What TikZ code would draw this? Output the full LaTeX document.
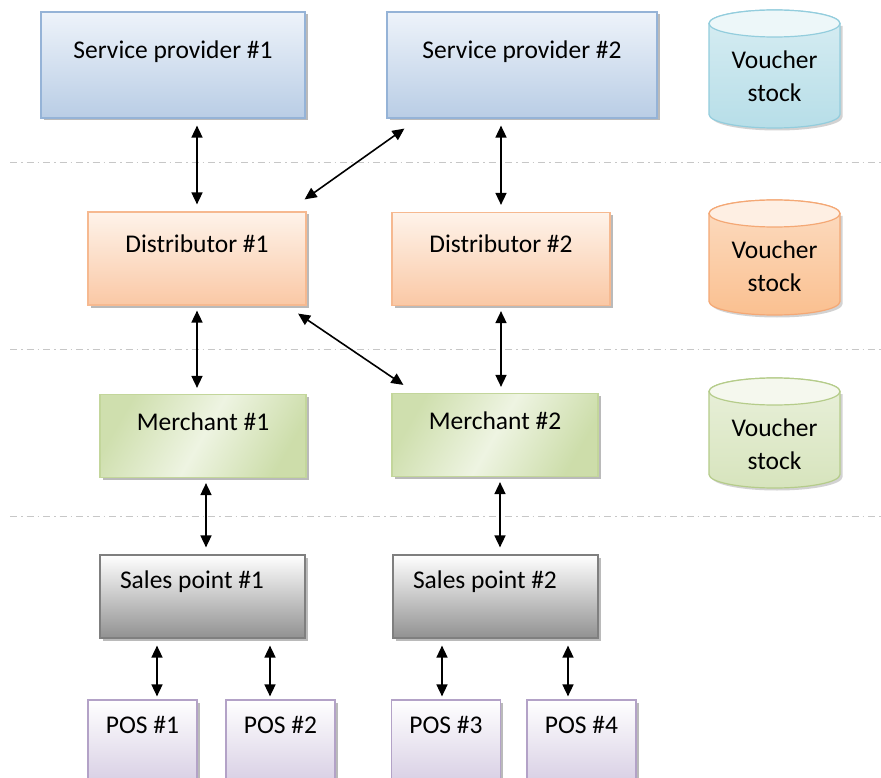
\documentclass[tikz,border=0pt]{standalone}
\usepackage{fontspec}
\setmainfont{Carlito}
\usetikzlibrary{arrows.meta,shadows}
\definecolor{spB}{HTML}{95B3D7}
\definecolor{spT}{HTML}{EEF3FA}
\definecolor{spM}{HTML}{B9CDE5}
\definecolor{diB}{HTML}{F6B990}
\definecolor{diT}{HTML}{FEF3EA}
\definecolor{diM}{HTML}{FAC8A5}
\definecolor{meB}{HTML}{C3D69B}
\definecolor{meT}{HTML}{CFDFAE}
\definecolor{meM}{HTML}{EEF4E2}
\definecolor{saB}{HTML}{7F7F7F}
\definecolor{saM}{HTML}{919191}
\definecolor{poB}{HTML}{B3A2C7}
\definecolor{poM}{HTML}{D0C5DF}
\definecolor{cyB}{HTML}{93CDDD}
\definecolor{cyF}{HTML}{B7DEE8}
\definecolor{orB}{HTML}{F4A875}
\definecolor{orF}{HTML}{FAC090}
\definecolor{grB}{HTML}{B5CC8A}
\definecolor{grF}{HTML}{D7E4BD}
\tikzset{
  box/.style={draw, line width=1.2pt, rectangle, align=center, font=\fontsize{25.5}{30}\selectfont,
    text height=17pt, inner sep=0pt,
    drop shadow={shadow xshift=2.5pt, shadow yshift=-2.5pt, fill=black!45, opacity=0.6}},
  spbox/.style={box, draw=spB, top color=spT, bottom color=spM, minimum height=106pt, text depth=29pt},
  dibox/.style={box, draw=diB, top color=diT, bottom color=diM, minimum width=218pt, minimum height=93pt, text depth=30pt},
  mebox/.style={box, draw=meB, shading=axis, left color=meT, right color=meT!80!meB, middle color=meM, shading angle=60, minimum width=206pt, minimum height=83pt, text depth=29pt},
  sabox/.style={box, draw=saB, top color=white, bottom color=saM, minimum width=205pt, minimum height=83pt, text depth=34pt, text width=165pt, align=flush left},
  pobox/.style={box, draw=poB, top color=white, bottom color=poM, minimum width=109pt, minimum height=100pt, text depth=51pt},
  link/.style={draw=black, line width=1.6pt, {Triangle[length=12pt,width=11pt]}-{Triangle[length=12pt,width=11pt]}},
  sep/.style={draw=black!22, line width=1pt, dash pattern=on 7pt off 4pt on 1.5pt off 4pt},
  vtext/.style={align=center, font=\fontsize{25.5}{33}\selectfont, inner sep=0pt}
}
\begin{document}
\begin{tikzpicture}[x=1pt,y=-1pt]
\clip (0,0) rectangle (881,778);
\fill[white] (0,0) rectangle (881,778);
% separators
\draw[sep] (10,163) -- (881,163);
\draw[sep] (10,349) -- (881,349);
\draw[sep] (10,516) -- (881,516);
% boxes
\node[spbox, minimum width=264pt] (sp1) at (173,65) {Service provider \#1};
\node[spbox, minimum width=270pt] (sp2) at (522,65) {Service provider \#2};
\node[dibox] (d1) at (197,258.5) {Distributor \#1};
\node[dibox] (d2) at (501,259) {Distributor \#2};
\node[mebox] (m1) at (203,436) {Merchant \#1};
\node[mebox] (m2) at (495,435) {Merchant \#2};
\node[sabox] (s1) at (202.5,596.5) {Sales point \#1};
\node[sabox] (s2) at (495.5,596.5) {Sales point \#2};
\node[pobox] (p1) at (142.5,750) {POS \#1};
\node[pobox] (p2) at (280.5,750) {POS \#2};
\node[pobox] (p3) at (446,750) {POS \#3};
\node[pobox] (p4) at (581.5,750) {POS \#4};
% cylinders
\foreach \yt/\yb/\cb/\cf/\nm in {10/128/cyB/cyF/v1, 200/315/orB/orF/v2, 378/488/grB/grF/v3}{
  \pgfmathsetmacro{\ta}{\yt+13.5}
  \pgfmathsetmacro{\ba}{\yb-13.5}
  \fill[black!35, opacity=0.5] (711.5,\ta+2.5) -- (711.5,\ba+2.5) arc[start angle=180,end angle=0,x radius=65.5,y radius=13.5] -- (842.5,\ta+2.5) -- cycle;
  \path[draw=\cb, line width=1.2pt, top color=\cf!55, bottom color=\cf] (709,\ta) -- (709,\ba) arc[start angle=180,end angle=0,x radius=65.5,y radius=13.5] -- (840,\ta) arc[start angle=0,end angle=-180,x radius=65.5,y radius=13.5] -- cycle;
  \path[draw=\cb, line width=1.2pt, fill=white!75!\cf] (774.5,\ta) ellipse[x radius=65.5, y radius=13.5];
  \node[vtext] (\nm) at (774.5,\yt+66) {Voucher\\stock};
}
% connectors
\coordinate (c1) at (157,0);
\coordinate (c2) at (270,0);
\coordinate (c3) at (442,0);
\coordinate (c4) at (568,0);
\draw[link, shorten <=7pt, shorten >=7pt] (sp1.south -| d1.north) -- (d1.north);
\draw[link, shorten <=7pt, shorten >=7pt] (sp2.south -| d2.north) -- (d2.north);
\draw[link] ([shift={(-2,-12)}]d1.north east) -- ([shift={(18,10)}]sp2.south west);
\draw[link, shorten <=5pt, shorten >=6pt] (d1.south) -- (d1.south |- m1.north);
\draw[link, shorten <=5pt, shorten >=6pt] (d2.south) -- (d2.south |- m2.north);
\draw[link] ([shift={(-8.5,8)}]d1.south east) -- ([shift={(12,-8)}]m2.north west);
\draw[link, shorten <=5pt, shorten >=7pt] ([xshift=3pt]m1.south) -- ([xshift=3pt]m1.south |- s1.north);
\draw[link, shorten <=5pt, shorten >=7pt] ([xshift=5pt]m2.south) -- ([xshift=5pt]m2.south |- s2.north);
\draw[link, shorten <=7pt, shorten >=3pt] (s1.south -| c1) -- (p1.north -| c1);
\draw[link, shorten <=7pt, shorten >=3pt] (s1.south -| c2) -- (p2.north -| c2);
\draw[link, shorten <=7pt, shorten >=3pt] (s2.south -| c3) -- (p3.north -| c3);
\draw[link, shorten <=7pt, shorten >=3pt] (s2.south -| c4) -- (p4.north -| c4);
\end{tikzpicture}
\end{document}
